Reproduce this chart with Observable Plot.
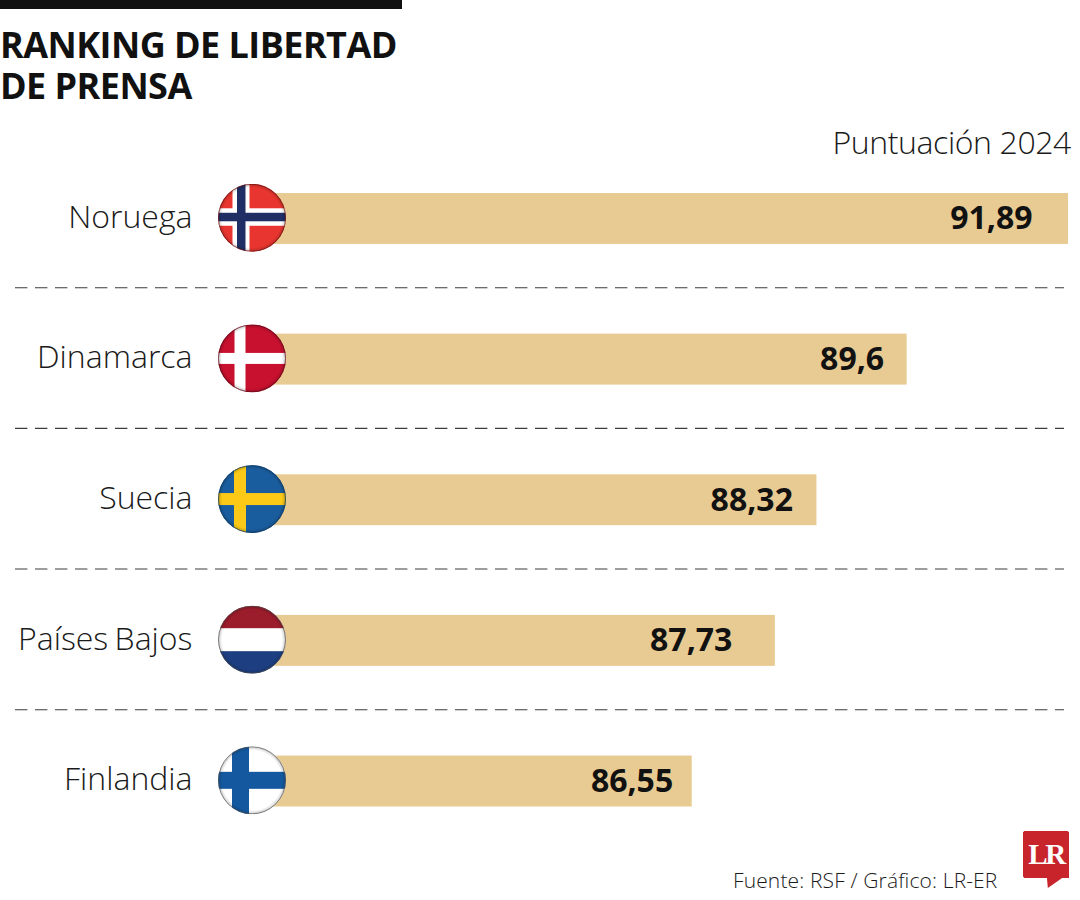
<!DOCTYPE html>
<html lang="es">
<head>
<meta charset="utf-8">
<script src="https://cdn.jsdelivr.net/npm/d3@7"></script>
<script src="https://cdn.jsdelivr.net/npm/@observablehq/plot@0.6"></script>
<style>
  html, body { margin: 0; padding: 0; background: #fff; }
  body { width: 1080px; height: 900px; position: relative; overflow: hidden; font-family: "Open Sans", sans-serif; color: #1a1a1a; }
  #bar { position: absolute; left: 0; top: 0; width: 402px; height: 9px; background: #111; }
  h1 { position: absolute; left: 0; top: 24px; margin: 0; font-size: 36px; line-height: 41px; font-weight: 700; letter-spacing: -0.55px; color: #111; white-space: nowrap; }
  #sub { position: absolute; right: 9px; top: 122px; font-size: 32px; line-height: 40px; font-weight: 300; letter-spacing: -0.4px; white-space: nowrap; }
  #chart { position: absolute; left: 0; top: 112px; }
  #source { position: absolute; left: 733px; top: 866px; font-size: 21px; line-height: 28px; font-weight: 300; letter-spacing: 0.13px; white-space: nowrap; }
  #logo { position: absolute; left: 1023px; top: 831px; width: 46px; height: 57px; background: #c8242b;
          clip-path: polygon(3% 0, 97% 0, 100% 2%, 100% 82.5%, 85% 82.5%, 54% 100%, 52% 82.5%, 3% 82.5%, 0 80%, 0 2%);
          color: #fff; font-family: "Liberation Serif", serif; font-weight: 700; font-size: 29px; line-height: 46px; text-align: center; letter-spacing: -2.4px; }
</style>
</head>
<body>
<div id="bar"></div>
<h1>RANKING DE LIBERTAD<br>DE PRENSA</h1>
<div id="sub">Puntuación 2024</div>
<div id="chart"></div>
<div id="source">Fuente: RSF / Gráfico: LR-ER</div>
<div id="logo">LR</div>
<script>
// Data
const countries = ["Noruega", "Dinamarca", "Suecia", "Países Bajos", "Finlandia"];
const scores = [91.89, 89.6, 88.32, 87.73, 86.55];
const scoreLabels = ["91,89", "89,6", "88,32", "87,73", "86,55"];

// Layout of the value labels (distance from the bar end, differs per row in the original)
const labelInsets = [36, 23, 24, 43, 19];

// The bars start behind the flag, on this score
const barBase = 80.31;

// Flag designs, in a 68-unit box
const flagDesigns = {
  "Noruega": { bg: "#e8352f", cross: [["#ffffff", 14.5, 17, 24.5, 17.5], ["#1f2f66", 19, 8.5, 29, 8.5]], edge: "#6d1512" },
  "Dinamarca": { bg: "#c8102f", cross: [["#ffffff", 16.5, 11, 28.5, 11]], edge: "#5f0b18" },
  "Suecia": { bg: "#1a5d9e", cross: [["#fbc916", 16, 12, 28, 12]], edge: "#0f3a63" },
  "Países Bajos": { bg: "#ffffff", bands: [["#9b1c2b", 0, 22.5], ["#1d3f82", 45.5, 22.5]], edge: "#4e4e4e" },
  "Finlandia": { bg: "#ffffff", cross: [["#14599f", 14, 17, 25.5, 17]], edge: "#555555" }
};

function flagUri(name) {
  const f = flagDesigns[name];
  let shapes = `<rect width="68" height="68" fill="${f.bg}"/>`;
  for (const [c, vx, vw, hy, hh] of f.cross || []) {
    shapes += `<rect x="${vx}" width="${vw}" height="68" fill="${c}"/><rect y="${hy}" width="68" height="${hh}" fill="${c}"/>`;
  }
  for (const [c, y, h] of f.bands || []) {
    shapes += `<rect y="${y}" width="68" height="${h}" fill="${c}"/>`;
  }
  const svg = `<svg xmlns="http://www.w3.org/2000/svg" width="68" height="68" viewBox="0 0 68 68">
    <defs>
      <clipPath id="c"><circle cx="34" cy="34" r="33.9"/></clipPath>
      <radialGradient id="g" cx="50%" cy="50%" r="50%">
        <stop offset="88%" stop-color="#000" stop-opacity="0"/>
        <stop offset="100%" stop-color="#000" stop-opacity="0.22"/>
      </radialGradient>
    </defs>
    <g clip-path="url(#c)">${shapes}<circle cx="34" cy="34" r="34" fill="url(#g)"/></g>
    <circle cx="34" cy="34" r="33.5" fill="none" stroke="${f.edge}" stroke-opacity="0.7" stroke-width="1"/>
  </svg>`;
  return "data:image/svg+xml;charset=utf-8," + encodeURIComponent(svg);
}

const rows = countries.map((country, i) => ({
  country, score: scores[i], label: scoreLabels[i], inset: labelInsets[i], flag: flagUri(country)
}));

const ink = "#1a1a1a";
const plot = Plot.plot({
  width: 1080,
  height: 730,
  marginLeft: 0,
  marginRight: 0,
  marginTop: 0,
  marginBottom: 0,
  style: { fontFamily: '"Open Sans", sans-serif', background: "transparent", overflow: "visible", wordSpacing: "-2px" },
  x: { domain: [barBase, scores[0]], range: [252, 1068], axis: null },
  y: { domain: countries, range: [81, 694.5], paddingInner: 0.6377, paddingOuter: 0, round: false, axis: null },
  marks: [
    Plot.barX(rows, { y: "country", x1: () => barBase, x2: "score", fill: "#e8cb92" }),
    Plot.ruleY(countries.slice(0, -1), {
      y: d => d, dy: 68.8, stroke: "#3c3c3c", strokeWidth: 1.1,
      strokeDasharray: "12.4 7.6", insetLeft: 15, insetRight: 16
    }),
    Plot.image(rows, { x: () => barBase, y: "country", src: "flag", width: 68, height: 68, dy: -1.2, dx: -0.5 }),
    Plot.text(rows, {
      y: "country", text: "country", frameAnchor: "left", dx: 192, dy: -1.5, textAnchor: "end",
      fontSize: 32, fontWeight: 300, fill: ink
    }),
    ...rows.map(r => Plot.text([r], {
      x: "score", y: "country", text: "label", textAnchor: "end", dx: -r.inset,
      fontSize: 32, fontWeight: 700, fill: "#111"
    }))
  ]
});
document.getElementById("chart").appendChild(plot);
</script>
</body>
</html>
